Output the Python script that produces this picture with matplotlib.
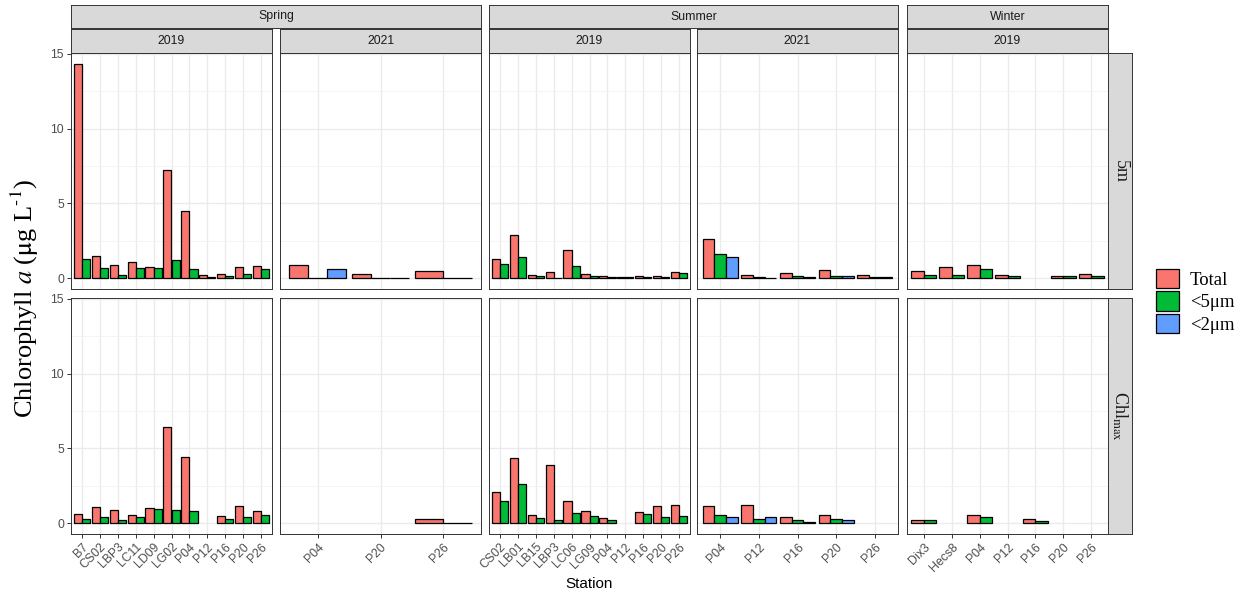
import numpy as np
import matplotlib
matplotlib.use("Agg")
import matplotlib.pyplot as plt
from matplotlib.patches import Patch

nan = np.nan

# Stations for every season/year column
spring19_stations = ["B7", "CS02", "LBP3", "LC11", "LD09", "LG02", "P04", "P12", "P16", "P20", "P26"]
spring21_stations = ["P04", "P20", "P26"]
summer19_stations = ["CS02", "LB01", "LB15", "LBP3", "LC06", "LG09", "P04", "P12", "P16", "P20", "P26"]
summer21_stations = ["P04", "P12", "P16", "P20", "P26"]
winter19_stations = ["Dix3", "Hecs8", "P04", "P12", "P16", "P20", "P26"]

# Chlorophyll a (ug/L): Total, <5um, <2um  (nan = not sampled)
spring19_5m_total = [14.33, 1.47, 0.89, 1.11, 0.78, 7.20, 4.47, 0.22, 0.29, 0.73, 0.82]
spring19_5m_lt5 = [1.31, 0.71, 0.24, 0.67, 0.71, 1.22, 0.64, 0.11, 0.18, 0.31, 0.64]
spring19_5m_lt2 = [nan] * 11
spring19_chl_total = [0.62, 1.11, 0.87, 0.58, 1.00, 6.46, 4.41, nan, 0.47, 1.16, 0.85]
spring19_chl_lt5 = [0.29, 0.40, 0.20, 0.42, 0.94, 0.91, 0.85, nan, 0.29, 0.42, 0.56]
spring19_chl_lt2 = [nan] * 11

spring21_5m_total = [0.87, 0.27, 0.47]
spring21_5m_lt5 = [0.05, 0.03, 0.04]
spring21_5m_lt2 = [0.60, 0.03, nan]
spring21_chl_total = [nan, nan, 0.31]
spring21_chl_lt5 = [nan, nan, 0.05]
spring21_chl_lt2 = [nan, nan, nan]

summer19_5m_total = [1.27, 2.87, 0.22, 0.42, 1.87, 0.29, 0.16, 0.07, 0.16, 0.13, 0.42]
summer19_5m_lt5 = [0.98, 1.44, 0.16, 0.03, 0.84, 0.18, 0.07, 0.07, 0.11, 0.11, 0.38]
summer19_5m_lt2 = [nan] * 11
summer19_chl_total = [2.11, 4.36, 0.58, 3.87, 1.49, 0.80, 0.33, nan, 0.73, 1.18, 1.24]
summer19_chl_lt5 = [1.47, 2.64, 0.38, 0.22, 0.67, 0.51, 0.22, nan, 0.60, 0.44, 0.51]
summer19_chl_lt2 = [nan] * 11

summer21_5m_total = [2.64, 0.24, 0.33, 0.53, 0.22]
summer21_5m_lt5 = [1.60, 0.09, 0.13, 0.16, 0.09]
summer21_5m_lt2 = [1.42, 0.03, 0.11, 0.16, 0.07]
summer21_chl_total = [1.13, 1.22, 0.40, 0.58, nan]
summer21_chl_lt5 = [0.58, 0.29, 0.20, 0.27, nan]
summer21_chl_lt2 = [0.44, 0.44, 0.09, 0.22, nan]

winter19_5m_total = [0.47, 0.78, 0.91, 0.24, nan, 0.18, 0.27]
winter19_5m_lt5 = [0.22, 0.22, 0.60, 0.18, nan, 0.16, 0.16]
winter19_5m_lt2 = [nan] * 7
winter19_chl_total = [0.20, nan, 0.53, nan, 0.31, nan, nan]
winter19_chl_lt5 = [0.20, nan, 0.40, nan, 0.18, nan, nan]
winter19_chl_lt2 = [nan] * 7

fractions = ["Total", "<5\u03bcm", "<2\u03bcm"]
colors = ["#F8766D", "#00BA38", "#619CFF"]

columns = [
    ("Spring", "2019", spring19_stations,
     [(spring19_5m_total, spring19_5m_lt5, spring19_5m_lt2), (spring19_chl_total, spring19_chl_lt5, spring19_chl_lt2)]),
    ("Spring", "2021", spring21_stations,
     [(spring21_5m_total, spring21_5m_lt5, spring21_5m_lt2), (spring21_chl_total, spring21_chl_lt5, spring21_chl_lt2)]),
    ("Summer", "2019", summer19_stations,
     [(summer19_5m_total, summer19_5m_lt5, summer19_5m_lt2), (summer19_chl_total, summer19_chl_lt5, summer19_chl_lt2)]),
    ("Summer", "2021", summer21_stations,
     [(summer21_5m_total, summer21_5m_lt5, summer21_5m_lt2), (summer21_chl_total, summer21_chl_lt5, summer21_chl_lt2)]),
    ("Winter", "2019", winter19_stations,
     [(winter19_5m_total, winter19_5m_lt5, winter19_5m_lt2), (winter19_chl_total, winter19_chl_lt5, winter19_chl_lt2)]),
]

plt.rcParams["mathtext.fontset"] = "stix"

W, H = 1244, 598
fig = plt.figure(figsize=(W / 100, H / 100), dpi=100)


def px(x0, y0, x1, y1):
    return [x0 / W, 1 - y1 / H, (x1 - x0) / W, (y1 - y0) / H]


col_x = [(71, 272), (280, 481), (489, 690), (697, 898), (907, 1108)]
row_y = [(53, 289), (298, 534)]
strip_bg = "#D9D9D9"
edge = "#333333"
sans = "Liberation Sans"
serif = "Liberation Serif"


def strip(box, text, rotation=0, **kw):
    s = fig.add_axes(px(*box))
    s.set_facecolor(strip_bg)
    s.set_xticks([])
    s.set_yticks([])
    for sp in s.spines.values():
        sp.set_color(edge)
        sp.set_linewidth(0.7)
    s.text(0.5, 0.5, text, rotation=rotation, ha="center", va="center",
           transform=s.transAxes, **kw)
    return s


ymax = 14.33
ylim = (-0.05 * ymax, 1.05 * ymax)

for ci, (season, year, stations, rows) in enumerate(columns):
    x0, x1 = col_x[ci]
    n = len(stations)
    for ri, series in enumerate(rows):
        y0, y1 = row_y[ri]
        ax = fig.add_axes(px(x0, y0, x1, y1))
        ax.set_xlim(-0.6, n - 1 + 0.6)
        ax.set_ylim(*ylim)
        ax.set_yticks([0, 5, 10, 15])
        ax.set_yticks([2.5, 7.5, 12.5], minor=True)
        ax.set_xticks(range(n))
        ax.grid(which="major", color="#EBEBEB", lw=1.0, zorder=0)
        ax.grid(which="minor", axis="y", color="#F2F2F2", lw=0.6, zorder=0)
        ax.set_axisbelow(True)
        for sp in ax.spines.values():
            sp.set_color(edge)
            sp.set_linewidth(0.7)

        # dodge bars within each station by the fractions present
        for i in range(n):
            present = [(k, series[k][i]) for k in range(3) if not np.isnan(series[k][i])]
            if not present:
                continue
            w = 0.9 / len(present)
            for j, (k, v) in enumerate(present):
                ax.bar(i - 0.45 + w * (j + 0.5), v, width=w, color=colors[k],
                       edgecolor="black", linewidth=0.9, zorder=3)

        ax.tick_params(axis="both", which="both", length=3, width=0.7, color=edge,
                       labelcolor="#4D4D4D", labelsize=8.8, pad=2)
        ax.tick_params(axis="y", which="minor", length=0)
        if ri == 1:
            ax.set_xticklabels(stations, rotation=45, ha="right", va="top",
                               rotation_mode="anchor", fontfamily=sans)
        else:
            ax.tick_params(axis="x", length=0, labelbottom=False)
        if ci == 0:
            ax.set_yticklabels(["0", "5", "10", "15"], fontfamily=sans)
        else:
            ax.tick_params(axis="y", length=0, labelleft=False)

    strip((x0, 29, x1, 53), year, fontsize=8.8, color="#1A1A1A", fontfamily=sans)

# season strips spanning their year columns
strip((71, 5, 481, 28), "Spring", fontsize=8.8, color="#1A1A1A", fontfamily=sans)
strip((489, 5, 898, 28), "Summer", fontsize=8.8, color="#1A1A1A", fontfamily=sans)
strip((907, 5, 1108, 28), "Winter", fontsize=8.8, color="#1A1A1A", fontfamily=sans)

# depth strips on the right
strip((1108, 53, 1132, 289), "5m", rotation=-90, fontsize=13, color="#1A1A1A", fontfamily=serif)
strip((1108, 298, 1132, 534), r"Chl$_{\mathrm{max}}$", rotation=-90, fontsize=13,
      color="#1A1A1A", fontfamily=serif)

fig.text(25 / W, 1 - 298 / H, r"Chlorophyll $a$ ($\mathrm{\mu}$g L$^{\text{-1}}$)", rotation=90,
         ha="center", va="center", fontsize=19, fontfamily=serif)
fig.text(589 / W, 1 - 584 / H, "Station", ha="center", va="center",
         fontsize=11, fontfamily=sans)

handles = [Patch(facecolor=c, edgecolor="black", linewidth=0.9) for c in colors]
fig.legend(handles, fractions, loc="upper left", bbox_to_anchor=(1156 / W, 1 - 269 / H),
           frameon=False, prop={"family": serif, "size": 13.5}, handlelength=1.22,
           handleheight=1.22, labelspacing=0.12, handletextpad=0.58, borderpad=0,
           borderaxespad=0)

fig.savefig("out.png", dpi=100)
